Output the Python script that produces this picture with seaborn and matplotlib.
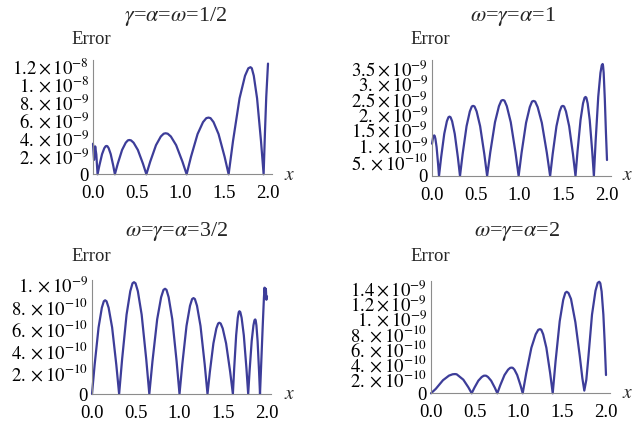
import numpy as np
import pandas as pd
import matplotlib
matplotlib.use("Agg")
import matplotlib.pyplot as plt
from matplotlib.ticker import AutoMinorLocator
import seaborn as sns

# ---------------- data ----------------
# Panel 1: gamma = alpha = omega = 1/2   (error in units of 1e-9)
x1 = [0.0, 0.012, 0.025, 0.038, 0.052,
      0.073, 0.1035, 0.129, 0.1447, 0.155, 0.1645, 0.179, 0.2025, 0.231, 0.25,
      0.283, 0.3325, 0.374, 0.3985, 0.415, 0.4345, 0.464, 0.5125, 0.571, 0.61,
      0.654, 0.72, 0.775, 0.808, 0.83, 0.854, 0.89, 0.95, 1.022, 1.07,
      1.12, 1.195, 1.2575, 1.295, 1.32, 1.343, 1.3775, 1.435, 1.504, 1.55,
      1.60, 1.675, 1.7375, 1.775, 1.80, 1.815, 1.8375, 1.875, 1.92, 1.95,
      1.965, 1.98, 2.0]
e1 = [3.4, 1.6, 3.1, 2.2, 0.0,
      0.98, 2.24, 2.90, 3.12, 3.15, 3.12, 2.90, 2.24, 0.98, 0.0,
      1.18, 2.71, 3.51, 3.77, 3.81, 3.77, 3.51, 2.71, 1.18, 0.0,
      1.41, 3.24, 4.20, 4.51, 4.56, 4.51, 4.20, 3.24, 1.41, 0.0,
      1.95, 4.47, 5.80, 6.24, 6.30, 6.24, 5.80, 4.47, 1.95, 0.0,
      3.69, 8.45, 10.95, 11.78, 11.9, 11.78, 10.95, 8.45, 3.69, 0.0,
      4.6, 8.6, 12.3]

# Panel 2: omega = gamma = alpha = 1   (units of 1e-9)
x2 = [0.0, 0.012, 0.025, 0.031, 0.039, 0.0525, 0.069, 0.08,
      0.104, 0.14, 0.17, 0.188, 0.2, 0.212, 0.23, 0.26, 0.296, 0.32,
      0.35, 0.395, 0.4325, 0.455, 0.47, 0.486, 0.51, 0.55, 0.598, 0.63,
      0.666, 0.72, 0.765, 0.792, 0.81, 0.828, 0.855, 0.90, 0.954, 0.99,
      1.024, 1.075, 1.1175, 1.143, 1.16, 1.179, 1.2075, 1.255, 1.312, 1.35,
      1.379, 1.4225, 1.459, 1.4805, 1.495, 1.5095, 1.531, 1.5675, 1.611, 1.64,
      1.663, 1.6975, 1.726, 1.7435, 1.755, 1.7645, 1.779, 1.8025, 1.831, 1.85,
      1.87, 1.90, 1.925, 1.94, 1.95, 1.955, 1.962, 1.975, 1.988, 2.0]
e2 = [1.05, 1.25, 1.32, 1.30, 1.21, 0.94, 0.41, 0.0,
      0.60, 1.37, 1.78, 1.91, 1.93, 1.91, 1.78, 1.37, 0.60, 0.0,
      0.71, 1.62, 2.10, 2.26, 2.28, 2.26, 2.10, 1.62, 0.71, 0.0,
      0.77, 1.75, 2.27, 2.45, 2.47, 2.45, 2.27, 1.75, 0.77, 0.0,
      0.76, 1.73, 2.24, 2.42, 2.44, 2.42, 2.24, 1.73, 0.76, 0.0,
      0.71, 1.62, 2.10, 2.26, 2.28, 2.26, 2.10, 1.62, 0.71, 0.0,
      0.80, 1.82, 2.36, 2.54, 2.57, 2.54, 2.36, 1.82, 0.80, 0.0,
      1.13, 2.58, 3.35, 3.60, 3.64, 3.58, 3.35, 2.5, 1.4, 0.52]

# Panel 3: omega = gamma = alpha = 3/2   (units of 1e-10)
x3 = [0.0, 0.03, 0.075, 0.1125, 0.135, 0.15, 0.166, 0.19, 0.23, 0.278, 0.31,
      0.344, 0.395, 0.4375, 0.463, 0.48, 0.4975, 0.524, 0.5675, 0.62, 0.655,
      0.691, 0.745, 0.79, 0.817, 0.835, 0.8515, 0.876, 0.9175, 0.967, 1.0,
      1.032, 1.08, 1.12, 1.144, 1.16, 1.176, 1.20, 1.24, 1.288, 1.32,
      1.347, 1.3875, 1.421, 1.4415, 1.455, 1.4705, 1.494, 1.5325, 1.579, 1.61,
      1.625, 1.6475, 1.666, 1.6775, 1.685, 1.695, 1.71, 1.735, 1.765, 1.785,
      1.801, 1.825, 1.845, 1.857, 1.865, 1.8705, 1.879, 1.8925, 1.909, 1.92,
      1.935, 1.95, 1.965, 1.972, 1.98, 1.987, 1.993, 2.0]
e3 = [0.0, 2.65, 6.07, 7.87, 8.46, 8.55, 8.46, 7.87, 6.07, 2.65, 0.0,
      3.16, 7.24, 9.38, 10.1, 10.2, 10.1, 9.38, 7.24, 3.16, 0.0,
      2.98, 6.82, 8.83, 9.5, 9.6, 9.5, 8.83, 6.82, 2.98, 0.0,
      2.71, 6.21, 8.05, 8.66, 8.75, 8.66, 8.05, 6.21, 2.71, 0.0,
      2.02, 4.62, 5.98, 6.43, 6.5, 6.43, 5.98, 4.62, 2.02, 0.0,
      2.34, 5.36, 6.95, 7.47, 7.55, 7.47, 6.95, 5.36, 2.34, 0.0,
      2.11, 4.83, 6.26, 6.73, 6.8, 6.73, 6.26, 4.83, 2.11, 0.0,
      3.0, 6.0, 8.8, 9.7, 9.0, 9.6, 8.6, 8.9]

# Panel 4: omega = gamma = alpha = 2   (units of 1e-10)
x4 = [0.0, 0.055, 0.137, 0.2055, 0.2465, 0.274, 0.293, 0.3125, 0.3695, 0.427, 0.465,
      0.4955, 0.541, 0.579, 0.602, 0.617, 0.631, 0.652, 0.6875, 0.73, 0.758,
      0.791, 0.84, 0.881, 0.9055, 0.922, 0.9345, 0.9535, 0.985, 1.023, 1.048,
      1.088, 1.147, 1.1965, 1.226, 1.246, 1.2605, 1.282, 1.3185, 1.362, 1.391,
      1.423, 1.471, 1.511, 1.535, 1.551, 1.571, 1.60, 1.65, 1.70, 1.73, 1.752,
      1.775, 1.80, 1.84, 1.88, 1.905, 1.923, 1.935, 1.95, 1.97, 1.985, 2.0]
e4 = [0.0, 0.6, 1.75, 2.36, 2.54, 2.57, 2.54, 2.36, 1.82, 0.80, 0.0,
      0.73, 1.68, 2.17, 2.34, 2.36, 2.34, 2.17, 1.68, 0.73, 0.0,
      1.06, 2.44, 3.16, 3.40, 3.43, 3.40, 3.16, 2.44, 1.06, 0.0,
      2.66, 6.08, 7.88, 8.48, 8.57, 8.48, 7.88, 6.08, 2.66, 0.0,
      4.2, 9.63, 12.48, 13.42, 13.56, 13.4, 12.6, 9.5, 5.0, 2.0, 0.36,
      1.8, 5.0, 10.5, 13.7, 14.75, 14.9, 14.7, 13.6, 10.5, 6.8, 2.44]

titles = [r"$\gamma$=$\alpha$=$\omega$=1/2", r"$\omega$=$\gamma$=$\alpha$=1",
          r"$\omega$=$\gamma$=$\alpha$=3/2", r"$\omega$=$\gamma$=$\alpha$=2"]
x_ticks = [0.0, 0.5, 1.0, 1.5, 2.0]
x_ticklabels = ["0.0", "0.5", "1.0", "1.5", "2.0"]

yt1 = [0, 2e-9, 4e-9, 6e-9, 8e-9, 1e-8, 1.2e-8]
yl1 = ["0", r"$2.\times10^{-9}$", r"$4.\times10^{-9}$", r"$6.\times10^{-9}$",
       r"$8.\times10^{-9}$", r"$1.\times10^{-8}$", r"$1.2\times10^{-8}$"]
yt2 = [0, 5e-10, 1e-9, 1.5e-9, 2e-9, 2.5e-9, 3e-9, 3.5e-9]
yl2 = ["0", r"$5.\times10^{-10}$", r"$1.\times10^{-9}$", r"$1.5\times10^{-9}$",
       r"$2.\times10^{-9}$", r"$2.5\times10^{-9}$", r"$3.\times10^{-9}$",
       r"$3.5\times10^{-9}$"]
yt3 = [0, 2e-10, 4e-10, 6e-10, 8e-10, 1e-9]
yl3 = ["0", r"$2.\times10^{-10}$", r"$4.\times10^{-10}$", r"$6.\times10^{-10}$",
       r"$8.\times10^{-10}$", r"$1.\times10^{-9}$"]
yt4 = [0, 2e-10, 4e-10, 6e-10, 8e-10, 1e-9, 1.2e-9, 1.4e-9]
yl4 = ["0", r"$2.\times10^{-10}$", r"$4.\times10^{-10}$", r"$6.\times10^{-10}$",
       r"$8.\times10^{-10}$", r"$1.\times10^{-9}$", r"$1.2\times10^{-9}$",
       r"$1.4\times10^{-9}$"]

# ---------------- styling ----------------
sns.set_theme(style="white")
plt.rcParams["font.family"] = ["Liberation Serif", "DejaVu Serif"]
plt.rcParams["mathtext.fontset"] = "stix"

LINE = "#3d3d99"
AXC = "#8c8c8c"
W, H = 632, 423

fig = plt.figure(figsize=(6.32, 4.23), dpi=100)

panels = [
    dict(x=x1, e=np.array(e1) * 1e-9, yt=yt1, yl=yl1, top=1.27e-8,
         rect=(93, 174.3, 60), title=(175.5, 17), err=(91, 40), xl=(290, 176)),
    dict(x=x2, e=np.array(e2) * 1e-9, yt=yt2, yl=yl2, top=3.77e-9,
         rect=(432, 176, 60), title=(513.5, 17), err=(430, 40), xl=(627.5, 176)),
    dict(x=x3, e=np.array(e3) * 1e-10, yt=yt3, yl=yl3, top=1.04e-9,
         rect=(92, 394, 280), title=(176.7, 231.7), err=(91, 256.7), xl=(290, 394)),
    dict(x=x4, e=np.array(e4) * 1e-10, yt=yt4, yl=yl4, top=1.5e-9,
         rect=(431, 393.3, 281), title=(517.5, 231.7), err=(430, 256.7), xl=(627.5, 393)),
]

XMAX = 2.04
PX_PER_UNIT = 87.5
for i, p in enumerate(panels):
    left, bottom, top = p["rect"]
    width = XMAX * PX_PER_UNIT
    ax = fig.add_axes([left / W, 1 - bottom / H, width / W, (bottom - top) / H])
    df = pd.DataFrame({"x": p["x"], "err": p["e"]})
    sns.lineplot(data=df, x="x", y="err", ax=ax, color=LINE, linewidth=1.6,
                 estimator=None, sort=False, clip_on=False)
    ax.set_xlim(0, XMAX)
    ax.set_ylim(0, p["top"])
    ax.set_xlabel("")
    ax.set_ylabel("")
    for s in ["top", "right"]:
        ax.spines[s].set_visible(False)
    for s in ["left", "bottom"]:
        ax.spines[s].set_color(AXC)
        ax.spines[s].set_linewidth(0.8)
    ax.set_xticks(x_ticks)
    ax.set_xticklabels(x_ticklabels)
    ax.set_yticks(p["yt"])
    ax.set_yticklabels(p["yl"])
    ax.xaxis.set_minor_locator(AutoMinorLocator(5))
    ax.yaxis.set_minor_locator(AutoMinorLocator())
    ax.tick_params(which="major", direction="in", length=4, width=0.7,
                   color=AXC, labelsize=13.5, labelcolor="black")
    ax.tick_params(which="minor", direction="in", length=2, width=0.5, color=AXC)
    ax.tick_params(axis="y", which="major", pad=3)
    ax.tick_params(axis="x", which="major", pad=8)
    ax.set_facecolor("none")

    tx, ty = p["title"]
    fig.text(tx / W, 1 - ty / H, titles[i], ha="center", va="center", fontsize=16)
    ex, ey = p["err"]
    fig.text(ex / W, 1 - ey / H, "Error", ha="center", va="center", fontsize=13.5)
    xx, xy = p["xl"]
    fig.text(xx / W, 1 - xy / H, r"$x$", ha="center", va="center", fontsize=14)

fig.savefig("out.png", dpi=100, facecolor="white")
